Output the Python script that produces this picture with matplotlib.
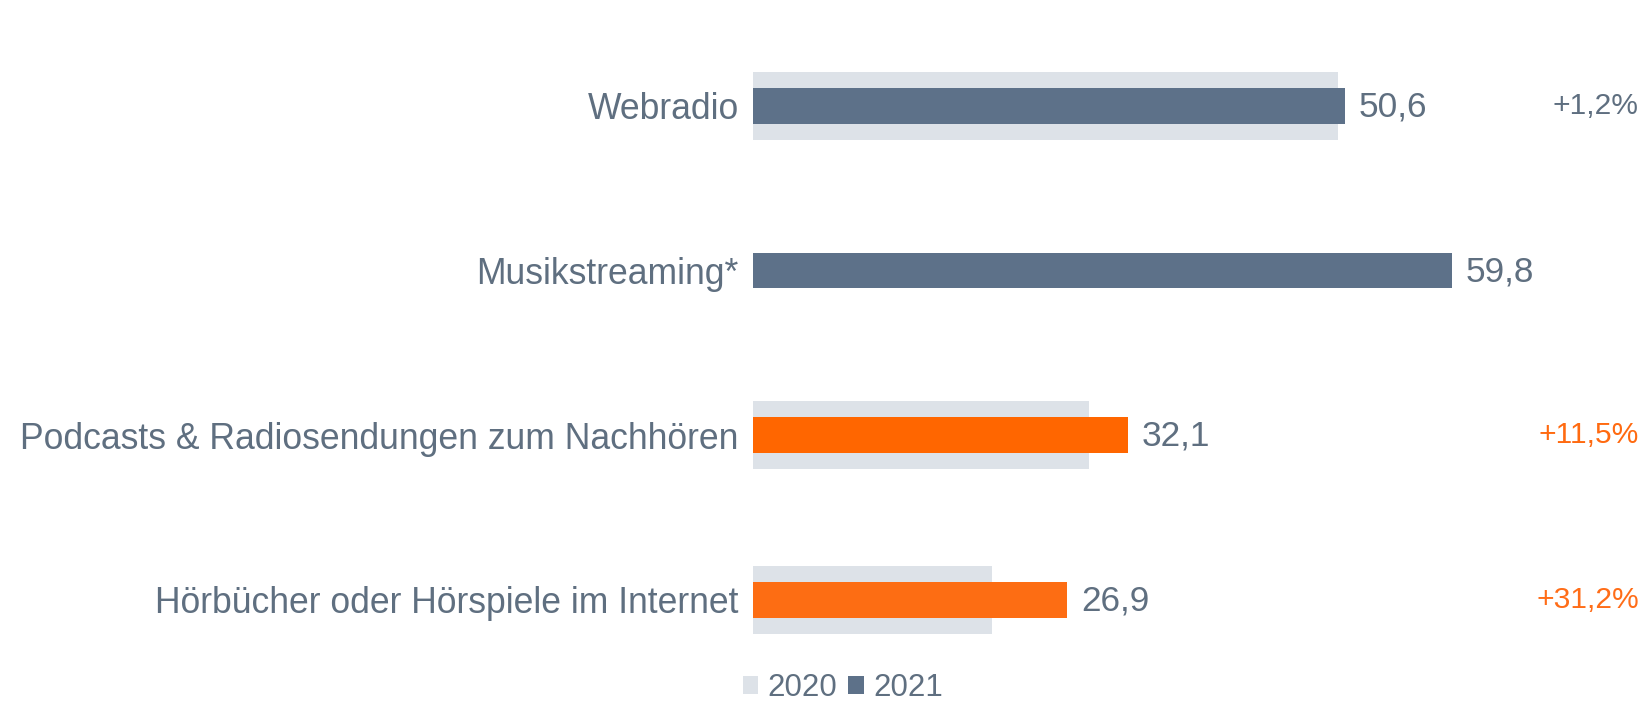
import matplotlib
matplotlib.use("Agg")
import matplotlib.pyplot as plt
from matplotlib.patches import Patch
import matplotlib.transforms as mtransforms

plt.rcParams['font.family'] = ['Liberation Sans', 'DejaVu Sans']

categories = ["Webradio", "Musikstreaming*", "Podcasts & Radiosendungen zum Nachhören",
              "Hörbücher oder Hörspiele im Internet"]
values_2020 = [50.0, None, 28.8, 20.5]
values_2021 = [50.6, 59.8, 32.1, 26.9]
value_labels = ["50,6", "59,8", "32,1", "26,9"]
changes = ["+1,2%", "", "+11,5%", "+31,2%"]
series_names = ["2020", "2021"]

C_GRAY = "#dde2e8"
C_SLATE = "#5d7189"
C_TEXT = "#5f6f80"
bar_colors_2021 = [C_SLATE, C_SLATE, "#ff6600", "#fd6d13"]
change_colors = [C_TEXT, C_TEXT, "#ff6a10", "#ff6d18"]

W, H = 1641, 703
fig = plt.figure(figsize=(W / 100, H / 100), dpi=100)
x0 = 752.5
ax = fig.add_axes([x0 / W, 0, 1 - x0 / W, 1])
px_per_unit = 11.70
ax.set_xlim(0, (W - x0) / px_per_unit)
spacing = 164.7
top = 105.7
ax.set_ylim((H - top) / spacing, -top / spacing)

ypos = list(range(len(categories)))
for i, v in enumerate(values_2020):
    if v is not None:
        ax.barh(ypos[i], v, height=68 / spacing, color=C_GRAY, zorder=1)
ax.barh(ypos, values_2021, height=35.6 / spacing, color=bar_colors_2021, zorder=2)

for i, v in enumerate(values_2021):
    ax.annotate(value_labels[i], (v, ypos[i]), xytext=(10, -1), textcoords="offset points",
                ha="left", va="center", fontsize=25.4, color=C_TEXT)

trans = mtransforms.blended_transform_factory(fig.transFigure, ax.transData)
for i, c in enumerate(changes):
    if c:
        ax.text(1639 / W, ypos[i], c, transform=trans, ha="right", va="center",
                fontsize=21.6, color=change_colors[i])

ax.set_yticks(ypos)
ax.set_yticklabels(categories, fontsize=25.6, color=C_TEXT)
ax.tick_params(axis="y", length=0, pad=10)
ax.set_xticks([])
for s in ax.spines.values():
    s.set_visible(False)

handles = [Patch(facecolor=C_GRAY, label=series_names[0]),
           Patch(facecolor=C_SLATE, label=series_names[1])]
leg = fig.legend(handles=handles, loc="center", bbox_to_anchor=(843 / W, 1 - 688 / H),
                 ncol=2, frameon=False, fontsize=22.5, handlelength=0.5, handleheight=0.5,
                 handletextpad=0.3, columnspacing=0.35, borderaxespad=0, borderpad=0)
for t in leg.get_texts():
    t.set_color(C_TEXT)

fig.savefig("out.png", dpi=100)
